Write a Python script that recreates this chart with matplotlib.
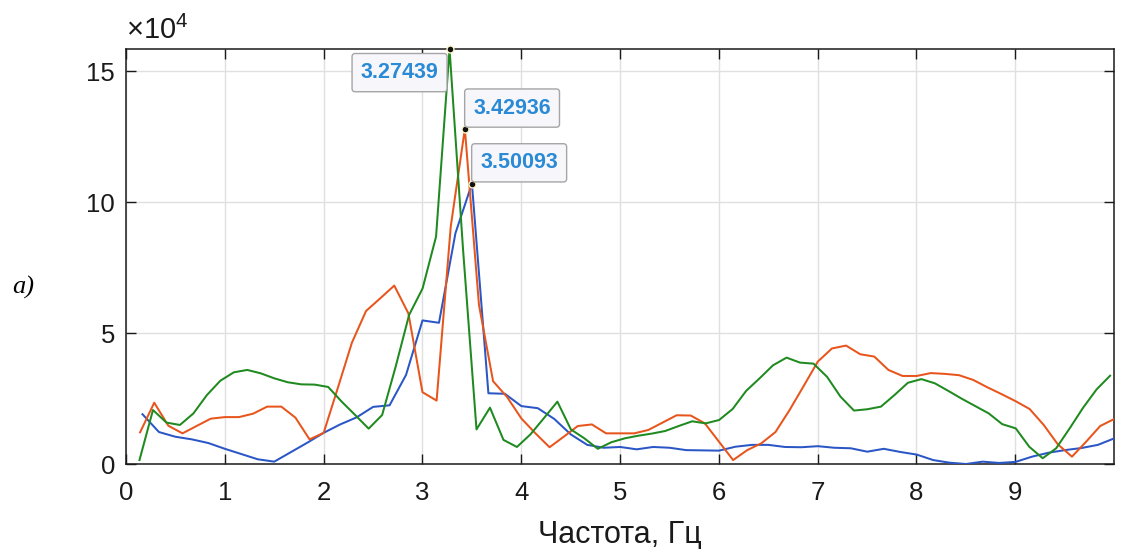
import numpy as np
import matplotlib
matplotlib.use('Agg')
import matplotlib.pyplot as plt
from matplotlib.ticker import FuncFormatter

plt.rcParams['font.family'] = ['Liberation Sans', 'DejaVu Sans']

# spectrum amplitudes, in units of 1e4, on each record's own frequency grid
df_green = 0.1364329
df_orange = 0.1428900
df_blue = 0.1667110

amp_green = [0.15, 2.06, 1.58, 1.49, 1.93, 2.63, 3.18, 3.50, 3.59, 3.46,
             3.27, 3.12, 3.04, 3.03, 2.94, 2.38, 1.87, 1.35, 1.87, 3.71,
             5.69, 6.70, 8.68, 15.84, 8.20, 1.32, 2.15, 0.92, 0.65, 1.13,
             1.75, 2.38, 1.32, 0.98, 0.58, 0.83, 0.98, 1.08, 1.16, 1.26,
             1.45, 1.63, 1.55, 1.68, 2.10, 2.79, 3.27, 3.77, 4.06, 3.87,
             3.83, 3.33, 2.57, 2.04, 2.09, 2.19, 2.63, 3.10, 3.24, 3.08,
             2.79, 2.49, 2.21, 1.93, 1.52, 1.36, 0.66, 0.22, 0.60, 1.36,
             2.15, 2.85, 3.37]

amp_orange = [1.21, 2.34, 1.46, 1.17, 1.45, 1.73, 1.79, 1.79, 1.92, 2.19,
              2.19, 1.77, 0.94, 1.19, 2.90, 4.63, 5.84, 6.32, 6.81, 5.75,
              2.74, 2.42, 9.06, 12.79, 6.07, 3.16, 2.55, 1.74, 1.17, 0.64,
              1.04, 1.45, 1.51, 1.17, 1.17, 1.17, 1.30, 1.58, 1.86, 1.85,
              1.55, 0.85, 0.15, 0.53, 0.79, 1.22, 2.06, 2.98, 3.91, 4.41,
              4.52, 4.19, 4.10, 3.59, 3.36, 3.36, 3.47, 3.44, 3.39, 3.21,
              2.93, 2.67, 2.40, 2.10, 1.49, 0.75, 0.28, 0.85, 1.45, 1.72]

amp_blue = [1.90, 1.22, 1.04, 0.94, 0.80, 0.58, 0.38, 0.18, 0.09, 0.45,
            0.81, 1.19, 1.51, 1.78, 2.18, 2.24, 3.40, 5.48, 5.39, 8.81,
            10.70, 2.70, 2.68, 2.21, 2.13, 1.72, 1.13, 0.73, 0.62, 0.65,
            0.56, 0.65, 0.62, 0.53, 0.52, 0.51, 0.66, 0.73, 0.73, 0.65,
            0.64, 0.68, 0.62, 0.60, 0.47, 0.58, 0.46, 0.36, 0.15, 0.05,
            0.00, 0.09, 0.04, 0.08, 0.28, 0.43, 0.53, 0.61, 0.73, 0.98]

x_ticks = [0, 1, 2, 3, 4, 5, 6, 7, 8, 9]
y_ticks = [0, 5, 10, 15]
scale = 1e4

series = [
    (df_blue, amp_blue, '#2a56c6', (34, 15)),
    (df_orange, amp_orange, '#e8551c', (34, 15)),
    (df_green, amp_green, '#1f8a1f', (-36, -17)),
]

fig = plt.figure(figsize=(11.35, 5.49), dpi=100)
ax = fig.add_axes([126 / 1135, 85 / 549, 988 / 1135, 415 / 549])

for df, amp, color, off in series:
    f = df * np.arange(1, len(amp) + 1)
    a = np.array(amp) * scale
    ax.plot(f, a, color=color, lw=1.45, zorder=3)

# data tips on the peaks
for df, amp, color, off in series:
    f = df * np.arange(1, len(amp) + 1)
    a = np.array(amp) * scale
    i = int(np.argmax(a))
    ax.plot(f[i], a[i], 'o', ms=5, mfc='#111111', mec='#fbf5c8', mew=1,
            zorder=6, clip_on=False)
    ax.annotate('%.5f' % f[i], (f[i], a[i]), xytext=off,
                textcoords='offset points', ha='center', va='center',
                fontsize=15.5, fontweight='bold', color='#2a8ad6', zorder=7,
                bbox=dict(boxstyle='round,pad=0.4,rounding_size=0.15',
                          fc='#f7f7fb', ec='#a5a5a5', lw=1))

ax.set_xlim(0, 9.999)
ax.set_ylim(0, max(amp_green) * scale)
ax.set_xticks(x_ticks)
ax.set_yticks([v * scale for v in y_ticks])
ax.yaxis.set_major_formatter(FuncFormatter(lambda v, p: '%g' % (v / scale)))

ax.grid(True, color='#e0e0e0', lw=1)
ax.set_axisbelow(True)
for s in ax.spines.values():
    s.set_color('#1a1a1a')
    s.set_linewidth(1.1)
ax.tick_params(direction='in', length=7, width=1, color='#1a1a1a',
               top=True, right=True, labelsize=18.5, labelcolor='#1a1a1a')
ax.tick_params(axis='x', pad=12)
ax.tick_params(axis='y', pad=8)

ax.set_xlabel('Частота, Гц', fontsize=22, color='#1a1a1a', labelpad=11)
ax.text(0.0, 1.01, r'$\mathregular{\times10^{4}}$', transform=ax.transAxes,
        fontsize=21, color='#1a1a1a', ha='left', va='bottom')
fig.text(12 / 1135, 1 - 287 / 549, 'a)', family='Liberation Serif',
         style='italic', fontsize=19, va='center', ha='left')

fig.savefig('out.png', dpi=100)
